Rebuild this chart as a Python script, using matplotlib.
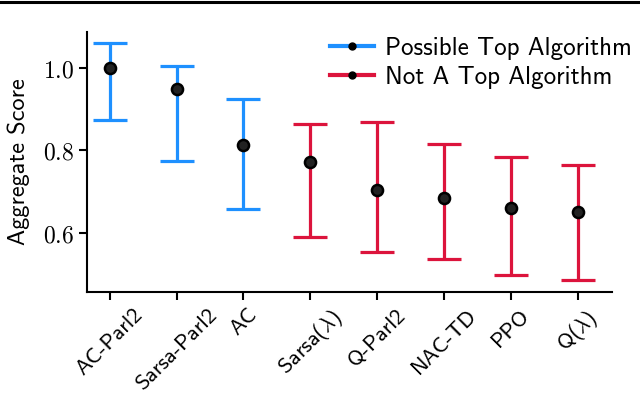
import matplotlib
matplotlib.use("Agg")
import matplotlib.pyplot as plt
from matplotlib.lines import Line2D
import numpy as np

algorithms = ["AC-Parl2", "Sarsa-Parl2", "AC", r"Sarsa($\lambda$)", "Q-Parl2",
              "NAC-TD", "PPO", r"Q($\lambda$)"]
means = [1.000, 0.949, 0.813, 0.772, 0.704, 0.684, 0.660, 0.650]
upper = [1.061, 1.005, 0.925, 0.864, 0.869, 0.816, 0.784, 0.765]
lower = [0.874, 0.774, 0.658, 0.590, 0.553, 0.536, 0.498, 0.485]
is_top = [True, True, True, False, False, False, False, False]
yticks = [0.6, 0.8, 1.0]

blue = "#1E90FF"
red = "#DC143C"

plt.rcParams["mathtext.fontset"] = "cm"
plt.rcParams["axes.formatter.use_mathtext"] = True
sans = "cmss10"

fig = plt.figure(figsize=(6.4, 3.97), dpi=100)
ax = fig.add_axes([0.136, 0.2645, 0.82, 0.6545])

x = np.arange(len(algorithms))
for xi, m, u, l, top in zip(x, means, upper, lower, is_top):
    c = blue if top else red
    ax.errorbar([xi], [m], yerr=[[m - l], [u - m]], fmt="none", ecolor=c,
                elinewidth=2.3, capsize=12.5, capthick=2.3, zorder=2)
    ax.plot([xi], [m], marker="o", ms=8, mfc="#222222", mec="black",
            mew=1.8, ls="none", zorder=3)

ax.set_xlim(-0.34, 7.51)
ax.set_ylim(0.456, 1.087)
ax.set_xticks(x)
ax.set_xticklabels(algorithms, rotation=45, ha="center", fontsize=16, family=sans)
ax.set_yticks(yticks)
ax.set_yticklabels([rf"${v:.1f}$" for v in yticks], fontsize=17)
ax.set_ylabel("Aggregate Score", fontsize=17.5, family=sans, labelpad=9)
for s in ["top", "right"]:
    ax.spines[s].set_visible(False)
for s in ["left", "bottom"]:
    ax.spines[s].set_linewidth(1.5)
ax.tick_params(width=1.5, length=6)

handles = [
    Line2D([0], [0], color=blue, lw=3, marker="o", ms=5, mfc="black", mec="black"),
    Line2D([0], [0], color=red, lw=3, marker="o", ms=5, mfc="black", mec="black"),
]
ax.legend(handles, ["Possible Top Algorithm", "Not A Top Algorithm"],
          loc="upper right", bbox_to_anchor=(1.081, 1.068), frameon=False,
          prop={"family": sans, "size": 18}, handlelength=1.75, labelspacing=0.25,
          handletextpad=0.45)

fig.add_artist(Line2D([0, 1], [0.996, 0.996], transform=fig.transFigure,
                      color="black", lw=2.2))

fig.savefig("out.png", dpi=100)
